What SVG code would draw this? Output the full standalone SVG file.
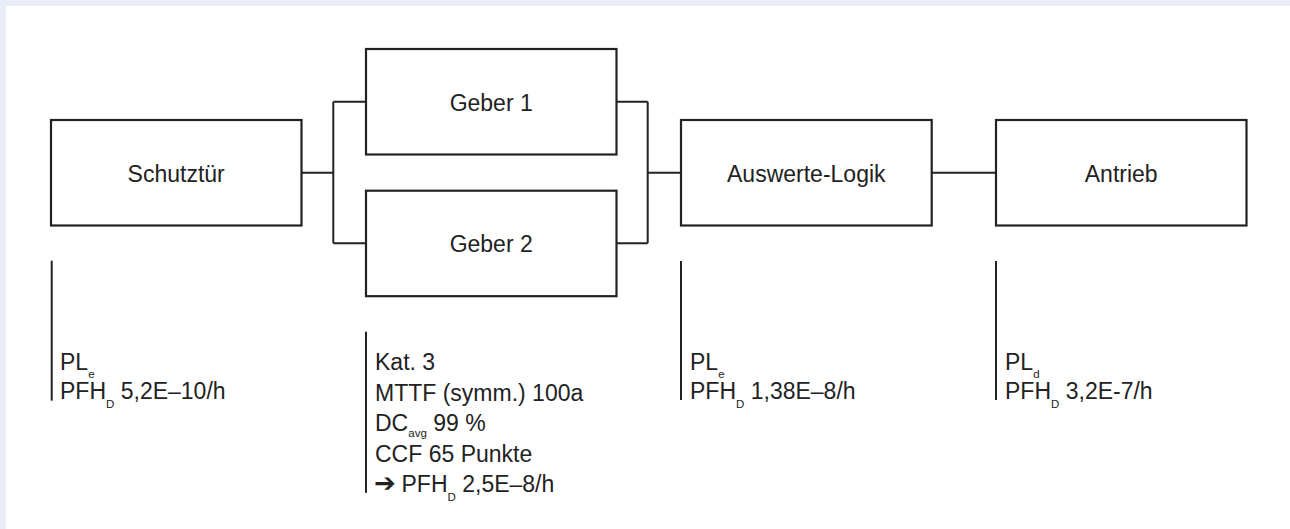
<svg xmlns="http://www.w3.org/2000/svg" width="1290" height="529" viewBox="0 0 1290 529">
<style>
.box{fill:#fff;stroke:#222;stroke-width:2.2}
.ln{fill:none;stroke:#222;stroke-width:2}
.t{font-family:"Liberation Sans",Arial,sans-serif;font-size:23px;fill:#222}
.c{text-anchor:middle}
.s{font-size:11.5px}
</style>
<rect x="0" y="0" width="1290" height="529" fill="#e9edf8"/>
<rect x="6" y="6" width="1284" height="523" fill="#fff"/>
<g id="connectors">
<path class="ln" d="M301.5 172.7H333.3M333.3 101.7V243.3M333.3 101.7H366M333.3 243.3H366"/>
<path class="ln" d="M616.5 101.7H647.7M616.5 243.3H647.7M647.7 101.7V243.3M647.7 172.7H681"/>
<path class="ln" d="M931.7 172.7H996"/>
</g>
<g id="schutztuer">
<rect class="box" x="51" y="120" width="250.5" height="105.5"/>
<text class="t c" x="176.2" y="181.7">Schutztür</text>
</g>
<g id="geber1">
<rect class="box" x="366" y="49" width="250.5" height="105.5"/>
<text class="t c" x="491.2" y="110.5">Geber 1</text>
</g>
<g id="geber2">
<rect class="box" x="366" y="190.7" width="250.5" height="105.5"/>
<text class="t c" x="491.2" y="251.5">Geber 2</text>
</g>
<g id="auswerte">
<rect class="box" x="681" y="120" width="250.7" height="105.5"/>
<text class="t c" x="806.3" y="181.7">Auswerte-Logik</text>
</g>
<g id="antrieb">
<rect class="box" x="996" y="120" width="250.5" height="105.5"/>
<text class="t c" x="1121.2" y="181.7">Antrieb</text>
</g>
<g id="info-schutztuer">
<path class="ln" d="M51.7 260.7V400.7"/>
<text class="t" x="60" y="370">PL<tspan class="s" dy="7.5">e</tspan></text>
<text class="t" x="60" y="399">PFH<tspan class="s" dy="8.5">D</tspan><tspan dy="-8.5"> 5,2E–10/h</tspan></text>
</g>
<g id="info-geber">
<path class="ln" d="M366 331.7V492.7"/>
<text class="t" x="375" y="370">Kat. 3</text>
<text class="t" x="375" y="400.5">MTTF (symm.) 100a</text>
<text class="t" x="375" y="431">DC<tspan class="s" dy="6">avg</tspan><tspan dy="-6"> 99 %</tspan></text>
<text class="t" x="375" y="461.5">CCF 65 Punkte</text>
<text class="t" x="374" y="492" style="font-family:'DejaVu Sans',sans-serif;font-size:26px;font-weight:bold">➔</text>
<text class="t" x="401.5" y="492">PFH<tspan class="s" dy="8.5">D</tspan><tspan dy="-8.5"> 2,5E–8/h</tspan></text>
</g>
<g id="info-auswerte">
<path class="ln" d="M681 261V400"/>
<text class="t" x="690" y="370">PL<tspan class="s" dy="7.5">e</tspan></text>
<text class="t" x="690" y="399">PFH<tspan class="s" dy="8.5">D</tspan><tspan dy="-8.5"> 1,38E–8/h</tspan></text>
</g>
<g id="info-antrieb">
<path class="ln" d="M996 261V400"/>
<text class="t" x="1005" y="370">PL<tspan class="s" dy="7.5">d</tspan></text>
<text class="t" x="1005" y="399">PFH<tspan class="s" dy="8.5">D</tspan><tspan dy="-8.5"> 3,2E-7/h</tspan></text>
</g>
</svg>
